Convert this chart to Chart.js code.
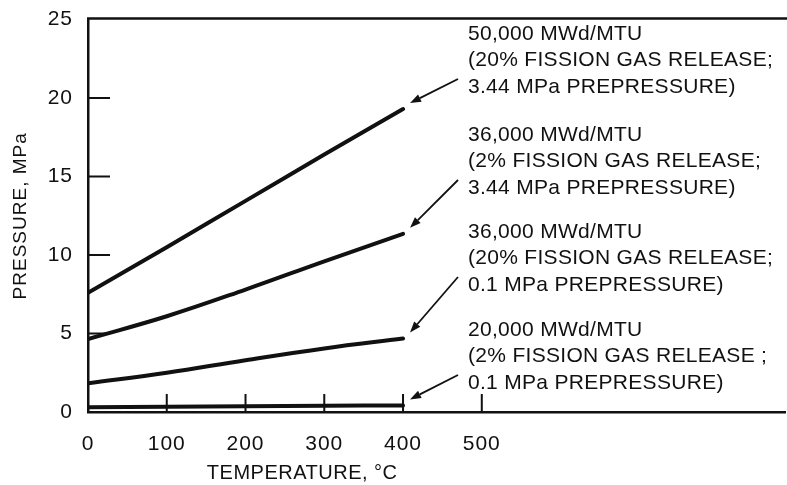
<!DOCTYPE html>
<html>
<head>
<meta charset="utf-8">
<script src="https://cdn.jsdelivr.net/npm/chart.js@4.4.1/dist/chart.umd.min.js"></script>
<style>
  body { margin: 0; background: #fff; }
  #wrap { width: 787px; height: 485px; }
</style>
</head>
<body>
<div id="wrap"><canvas id="myChart" width="787" height="485"></canvas></div>
<script>
// temperatures (deg C) where pressures were read
var temps = [0, 100, 200, 300, 400];
var xTicks = [0, 100, 200, 300, 400, 500];
var yTicks = [0, 5, 10, 15, 20, 25];

// pressure, MPa
var burn50k_20pct_344 = [7.6, 10.5, 13.45, 16.4, 19.3];
var burn36k_2pct_344 = [4.65, 6.1, 7.8, 9.6, 11.35];
var burn36k_20pct_01 = [1.83, 2.5, 3.3, 4.05, 4.68];
var burn20k_2pct_01 = [0.3, 0.33, 0.37, 0.4, 0.42];

var labels1 = ['50,000 MWd/MTU', '(20% FISSION GAS RELEASE;', '3.44 MPa PREPRESSURE)'];
var labels2 = ['36,000 MWd/MTU', '(2% FISSION GAS RELEASE;', '3.44 MPa PREPRESSURE)'];
var labels3 = ['36,000 MWd/MTU', '(20% FISSION GAS RELEASE;', '0.1 MPa PREPRESSURE)'];
var labels4 = ['20,000 MWd/MTU', '(2% FISSION GAS RELEASE ;', '0.1 MPa PREPRESSURE)'];

var ink = '#111';
var font = 'Liberation Sans, Arial, sans-serif';

function pts(vals) {
    return temps.map(function (t, i) { return { x: t, y: vals[i] }; });
}

function lineSet(vals) {
    return {
        data: pts(vals),
        borderColor: ink,
        borderWidth: 4,
        borderCapStyle: 'round',
        pointRadius: 0,
        tension: 0.4,
        fill: false
    };
}

// text blocks on the right, one per curve (first line centre y)
var blocks = [labels1, labels2, labels3, labels4];
var blockY = [34, 135, 232, 330];
var textX = 468;
var lineGap = 26.5;

var decor = {
    id: 'decor',
    beforeDraw: function (chart) {
        chart.ctx.letterSpacing = '1px';
    },
    afterDraw: function (chart) {
        var ctx = chart.ctx;
        var area = chart.chartArea;
        var xs = chart.scales.x, ys = chart.scales.y;
        ctx.save();
        ctx.strokeStyle = ink;
        ctx.fillStyle = ink;

        // top frame line
        ctx.lineWidth = 2.5;
        ctx.beginPath();
        ctx.moveTo(area.left - 1, area.top - 1);
        ctx.lineTo(787, area.top - 1);
        ctx.stroke();

        // inward tick marks
        ctx.lineWidth = 2;
        ctx.beginPath();
        xTicks.forEach(function (v) {
            if (v === 0) return;
            var px = xs.getPixelForValue(v);
            ctx.moveTo(px, area.bottom);
            ctx.lineTo(px, area.bottom - 18);
        });
        yTicks.forEach(function (v) {
            if (v === 0 || v === 25) return;
            var py = ys.getPixelForValue(v);
            ctx.moveTo(area.left, py);
            ctx.lineTo(area.left + 22, py);
        });
        ctx.stroke();

        // annotation text
        ctx.letterSpacing = '0.3px';
        ctx.font = '21px ' + font;
        ctx.textAlign = 'left';
        ctx.textBaseline = 'middle';
        blocks.forEach(function (lines, b) {
            lines.forEach(function (s, k) {
                ctx.fillText(s, textX, blockY[b] + k * lineGap);
            });
        });

        // arrows from text to the end of each curve
        ctx.lineWidth = 1.8;
        blocks.forEach(function (lines, b) {
            var meta = chart.getDatasetMeta(b);
            var end = meta.data[meta.data.length - 1];
            var tx = end.x + 7, ty = end.y - 6;
            var sx = textX - 10, sy = blockY[b] + 2 * lineGap - 8;
            var ang = Math.atan2(ty - sy, tx - sx);
            var hl = 11, hw = 4;
            var bx = tx - hl * Math.cos(ang), by = ty - hl * Math.sin(ang);
            ctx.beginPath();
            ctx.moveTo(sx, sy);
            ctx.lineTo(bx, by);
            ctx.stroke();
            ctx.beginPath();
            ctx.moveTo(tx, ty);
            ctx.lineTo(bx + hw * Math.sin(ang), by - hw * Math.cos(ang));
            ctx.lineTo(bx - hw * Math.sin(ang), by + hw * Math.cos(ang));
            ctx.closePath();
            ctx.fill();
        });

        // x axis title (sits left of centre in the original)
        ctx.letterSpacing = '0.5px';
        ctx.font = '20px ' + font;
        ctx.textAlign = 'center';
        ctx.fillText('TEMPERATURE, \u00B0C', xs.getPixelForValue(272), 473);
        ctx.restore();
    }
};

var ctx = document.getElementById('myChart').getContext('2d');
var myChart = new Chart(ctx, {
    type: 'line',
    data: {
        datasets: [
            lineSet(burn50k_20pct_344),
            lineSet(burn36k_2pct_344),
            lineSet(burn36k_20pct_01),
            lineSet(burn20k_2pct_01)
        ]
    },
    options: {
        responsive: false,
        animation: false,
        layout: { padding: { top: 15, right: 2, left: 0, bottom: 0 } },
        plugins: {
            legend: { display: false },
            tooltip: { enabled: false }
        },
        scales: {
            x: {
                type: 'linear',
                min: 0,
                max: 885,
                grid: { display: false },
                border: { display: true, color: ink, width: 2.5 },
                afterBuildTicks: function (s) {
                    s.ticks = xTicks.map(function (v) { return { value: v }; });
                },
                afterFit: function (s) { s.height = 73; },
                ticks: {
                    color: ink,
                    padding: 12,
                    maxRotation: 0,
                    font: { family: font, size: 21 }
                }
            },
            y: {
                min: 0,
                max: 25,
                grid: { display: false },
                border: { display: true, color: ink, width: 2.5 },
                afterBuildTicks: function (s) {
                    s.ticks = yTicks.map(function (v) { return { value: v }; });
                },
                afterFit: function (s) { s.width = 88; },
                title: {
                    display: true,
                    text: 'PRESSURE, MPa',
                    color: ink,
                    padding: { top: 9, bottom: 0 },
                    font: { family: font, size: 19 }
                },
                ticks: {
                    color: ink,
                    padding: 7,
                    font: { family: font, size: 21 }
                }
            }
        }
    },
    plugins: [decor]
});
</script>
</body>
</html>
